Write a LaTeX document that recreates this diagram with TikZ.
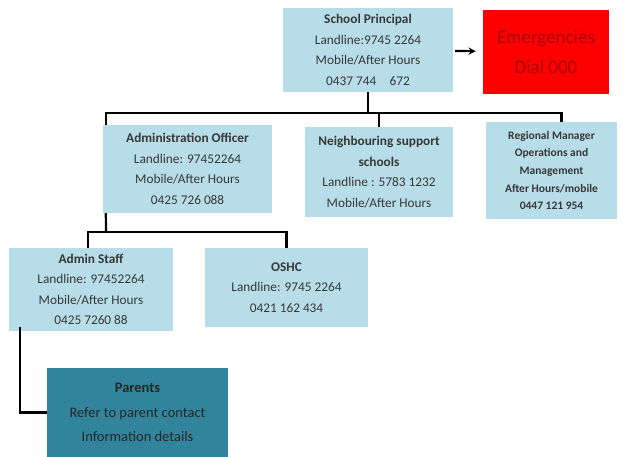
\documentclass[tikz,border=0pt]{standalone}
\usepackage{fontspec}
\setmainfont{Carlito}
\usepackage{tikz}
\usetikzlibrary{positioning}
\definecolor{paleblue}{HTML}{B7DDE8}
\definecolor{tealbox}{HTML}{31849B}
\definecolor{darkred}{HTML}{A80000}

\begin{document}
\begin{tikzpicture}[x=1pt,y=-1pt,
    box/.style={fill=paleblue,text=black!78,align=center,inner sep=0pt,
        font=\fontsize{13.3}{20.5}\selectfont},
    link/.style={line width=2.2pt}]
   \useasboundingbox (0,0) rectangle (623,457);

   \node[box,minimum width=170,minimum height=84] (principal) at (368,50)
        {\textbf{School Principal}\\Landline:9745 2264\\Mobile/After Hours\\0437 744\quad 672};
   \node[box,fill=red,text=darkred,minimum width=126,minimum height=84,
        font=\fontsize{19}{30}\selectfont] (emergency) at (546,52)
        {Emergencies\\Dial 000};

   \node[box,minimum width=169,minimum height=88] (officer) at (187.5,169)
        {\textbf{Administration Officer}\\Landline: 97452264\\Mobile/After Hours\\0425 726 088};
   \node[box,minimum width=148,minimum height=90] (neighbour) at (379,172)
        {\textbf{Neighbouring support}\\\textbf{schools}\\Landline : 5783 1232\\Mobile/After Hours};
   \node[box,minimum width=131,minimum height=97,font=\fontsize{11.5}{17.7}\selectfont\bfseries] (regional) at (551.5,170.5)
        {Regional Manager\\Operations and\\Management\\After Hours/mobile\\0447 121 954};

   \node[box,minimum width=164,minimum height=83] (staff) at (91,289.5)
        {\textbf{Admin Staff}\\Landline: 97452264\\Mobile/After Hours\\0425 7260 88};
   \node[box,minimum width=163,minimum height=79] (oshc) at (286.5,287.5)
        {\textbf{OSHC}\\Landline: 9745 2264\\0421 162 434};

   \node[box,fill=tealbox,text=black!85,minimum width=181,minimum height=89,
        font=\fontsize{14.5}{24.5}\selectfont] (parents) at (137.5,412.5)
        {\textbf{Parents}\\Refer to parent contact\\Information details};

   \draw[link,->,>=stealth,shorten <=2pt,shorten >=7pt] (principal) -- (emergency);

   \coordinate (top) at (368,113);
   \draw[link] (principal.south) -- (top);
   \draw[link] (top) -| ([xshift=3pt]officer.north west);
   \draw[link] (top) -| (neighbour.north);
   \draw[link] (top) -| ([xshift=10pt]regional.north);

   \coordinate (mid) at (106,232);
   \draw[link] ([xshift=3pt]officer.south west) -- (mid);
   \draw[link] (mid) -| ([xshift=-3pt]staff.north);
   \draw[link] (mid) -| (oshc.north);

   \draw[link] ([xshift=11pt,yshift=4pt]staff.south west) |- (parents.west);
\end{tikzpicture}
\end{document}
